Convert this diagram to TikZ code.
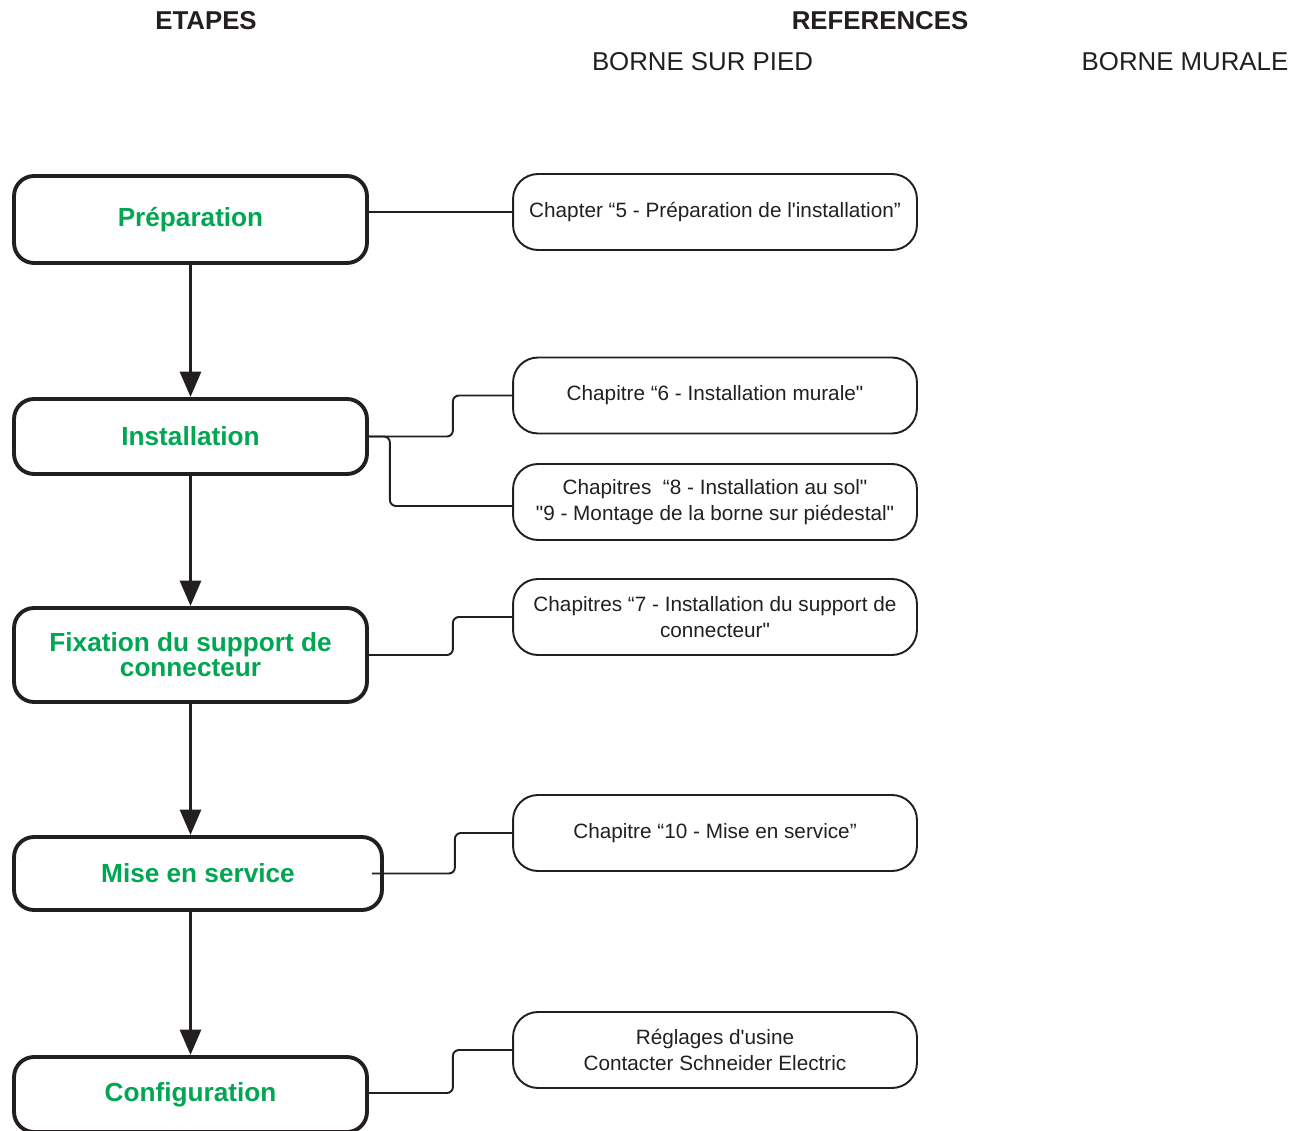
\documentclass[tikz,border=0pt]{standalone}
\usepackage{fontspec}
\setmainfont{Liberation Sans}[Ligatures=TeXOff]
\usetikzlibrary{positioning, arrows.meta}
\definecolor{etapegreen}{RGB}{0,166,81}
\definecolor{inkgray}{RGB}{35,31,32}

\begin{document}
\begin{tikzpicture}[x=0.02cm, y=-0.02cm, color=inkgray]
    \useasboundingbox (0,0) rectangle (1302,1131);

    % column titles
    \node[font=\fontsize{14.7}{17}\selectfont\bfseries] (etapes) at (206, 21) {ETAPES};
    \node[font=\fontsize{14.7}{17}\selectfont\bfseries] (refs)   at (880, 21) {REFERENCES};
    \node[font=\fontsize{14.7}{17}\selectfont] (pied)   at (702.5, 62) {BORNE SUR PIED};
    \node[font=\fontsize{14.7}{17}\selectfont] (murale) at (1185, 62)  {BORNE MURALE};

    % steps
    \begin{scope}[every node/.style={draw, line width=2.2pt, rounded corners=0.4cm,
                  minimum width=7.06cm, align=center, text=etapegreen,
                  font=\fontsize{14.9}{14.2}\selectfont\bfseries}]
        \node[minimum height=1.74cm] (prep) at (190.5, 219.5) {Préparation};
        \node[minimum height=1.50cm] (inst) at (190.5, 436.5) {Installation};
        \node[minimum height=1.88cm] (fix)  at (190.5, 655)   {Fixation du support de\\connecteur};
        \node[minimum height=1.46cm, minimum width=7.36cm] (mise) at (198, 873.5) {Mise en service};
        \node[minimum height=1.50cm] (conf) at (190.5, 1094.5) {Configuration};
    \end{scope}

    % references
    \begin{scope}[every node/.style={draw, line width=1.1pt, rounded corners=0.5cm,
                  minimum width=8.08cm, minimum height=1.52cm, align=center,
                  font=\fontsize{11.8}{14.7}\selectfont}]
        \node (r1) at (715, 212)    {Chapter “5 - Préparation de l'installation”};
        \node (r2) at (715, 395.5)  {Chapitre “6 - Installation murale"};
        \node (r3) at (715, 502)    {Chapitres \ “8 - Installation au sol"\\"9 - Montage de la borne sur piédestal"};
        \node (r4) at (715, 617)    {Chapitres “7 - Installation du support de\\connecteur"};
        \node (r5) at (715, 833)    {Chapitre “10 - Mise en service”};
        \node (r6) at (715, 1050)   {Réglages d'usine\\Contacter Schneider Electric};
    \end{scope}

    % step order
    \begin{scope}[>={Triangle[width=11.8pt, length=14.5pt]}, line width=2.2pt]
        \draw[->] (prep.south) -- (prep.south |- inst.north);
        \draw[->] (inst.south) -- (inst.south |- fix.north);
        \draw[->] (fix.south)  -- (fix.south |- mise.north);
        \draw[->] (mise.south -| conf.north) -- (conf.north);
    \end{scope}

    % links to chapters
    \begin{scope}[line width=1.1pt, rounded corners=0.12cm]
        \draw (prep.east |- r1.west) -- (r1.west);
        \draw (inst.east) -- ++(84,0) |- (r2.west);
        \draw (inst.east) -- ++(21,0) |- ([yshift=-0.08cm]r3.west);
        \draw (fix.east)  -- ++(84,0) |- (r4.west);
        \draw ([xshift=-0.24cm]mise.east) -- ++(83,0) |- (r5.west);
        \draw ([yshift=0.03cm]conf.east) -- ++(84,0) |- (r6.west);
    \end{scope}
\end{tikzpicture}
\end{document}
